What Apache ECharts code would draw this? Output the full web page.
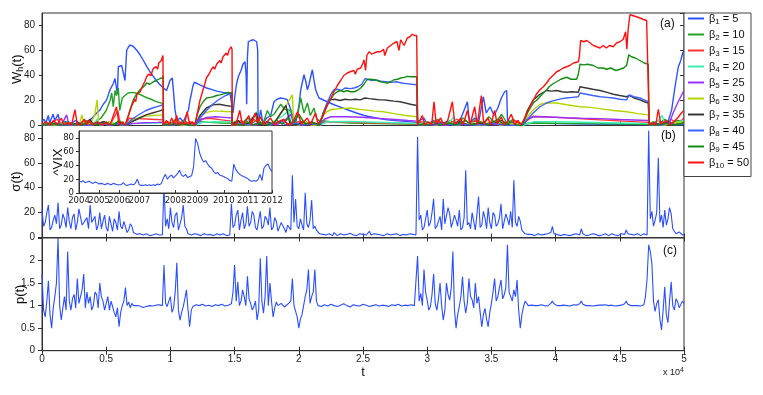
<!DOCTYPE html>
<html>
<head>
<meta charset="utf-8">
<script src="https://cdn.jsdelivr.net/npm/echarts@6/dist/echarts.min.js"></script>
<style>
  html, body { margin: 0; padding: 0; background: #fff; }
  #main { width: 763px; height: 395px; }
</style>
</head>
<body>
<div id="main"></div>
<script>
// horizons and strengths of the W_h(t) strategies
var betas = [5, 10, 15, 20, 25, 30, 35, 40, 45, 50];

// W_h(t), one [t, W] list per beta
var w1 = [[0,3],[150,5],[300,2],[490,8],[600,2],[860,9],[1000,4],[1250,9],[1400,2],[1800,3],[2200,1],[2600,4],[3000,1.5],[3400,3],[3738,4.5],[4000,7],[4257,10],[4517,12.5],[4776,17],[5036,20.5],[5296,28.6],[5555,33.6],[5685,37.6],[5815,36],[5870,25],[5945,47],[6075,47],[6205,48],[6334,47],[6464,36],[6594,60],[6723,62.6],[6853,64.5],[7113,63.2],[7400,60],[7632,56.6],[7900,52],[8152,47.3],[8400,43],[8671,39.3],[8900,36],[9190,32.6],[9450,30],[9700,28],[9969,36],[10150,38],[10300,37],[10360,12.5],[10500,4],[10750,6],[11000,3],[11270,9],[11400,12],[11530,20.5],[11650,26],[11735,31],[11865,34.6],[12000,34],[12300,32.5],[12825,30],[13300,28.5],[13600,27.5],[14100,26.5],[14640,25.6],[14780,25.5],[14880,10],[15000,22],[15150,33],[15290,39],[15500,44],[15650,49],[15810,51],[15900,40],[15940,17],[16000,55],[16070,67],[16250,68],[16460,68.6],[16600,67],[16720,67],[16800,60],[16830,0.5],[17030,12.6],[17200,2],[17500,6],[17810,8],[18070,19],[18300,21],[18590,22],[18850,21.5],[19110,20.6],[19370,12.6],[19600,5],[19760,2],[20000,15],[20150,28.6],[20405,40.6],[20550,35],[20670,28.6],[20800,33],[20925,39],[21055,44.6],[21200,35],[21315,28.6],[21450,25],[21573,22],[22000,20],[22740,16.6],[23300,14.5],[23780,12.6],[24500,10],[25080,8],[26000,6],[26895,4.5],[28000,3.5],[29180,2.5],[29260,2],[29750,6],[30000,1],[30500,4],[31000,1],[31500,3],[32000,0.5],[32600,5],[33130,19],[33300,2],[33700,6],[34000,2],[34370,23],[34600,10],[34900,15],[35200,8],[35500,14],[35773,22],[36032,27],[36190,28],[36250,5],[36500,2],[37000,1],[37400,0.5],[38000,2],[40000,1.5],[44000,1],[47220,0.8],[47500,2],[47900,0.5],[48400,4],[48700,1],[49040,12.5],[49300,31],[49560,47],[49750,52],[49900,58],[50000,60]];
var w2 = [[0,0.5],[600,2],[1200,0.3],[2000,3],[2600,0.5],[3400,4],[3900,1],[4600,6],[5000,12],[5300,20],[5430,26],[5550,15],[5690,28],[5800,24],[5945,30],[6050,12],[6250,22],[6464,24],[6700,26],[7000,26.5],[7300,26],[7600,25],[7900,23.5],[8200,22],[8500,21],[8800,19.5],[9100,18.5],[9440,17.5],[9460,0.3],[9700,3],[10000,1],[10400,5],[10700,1],[11100,4],[11500,1],[11900,2],[12300,3],[13000,2.5],[14000,2],[14780,1.8],[14820,1.5],[15200,4],[15500,1],[16000,6],[16400,2],[16800,5],[17200,1],[17550,12],[17800,7],[18070,9],[18590,17],[18900,13],[19370,12],[19600,2],[19900,8],[20150,22],[20400,10],[20670,18],[20900,8],[21180,14],[21400,5],[21600,4],[22500,3],[24000,2],[26000,1.5],[29180,1],[29800,3],[30300,1],[30800,5],[31300,1],[31800,4],[32300,1],[32800,6],[33300,1],[33800,5],[34300,1],[34800,7],[35300,2],[35800,9],[36200,2],[36700,5],[37200,1],[38500,2],[42000,1.5],[47220,1],[47600,3],[48000,1],[48500,5],[49000,2],[49500,4],[50000,3]];
var w3 = [[0,0.5],[700,2],[1200,5],[1500,0.5],[2200,2],[2800,0.5],[3700,4],[4000,0.5],[4800,3],[5300,0.5],[5900,12],[6100,1],[6464,0.5],[6800,5.8],[7500,5.5],[8500,5],[9440,4.5],[9460,1],[9800,3],[10200,0.5],[10600,4],[11000,0.5],[11500,3],[11900,1],[12300,5],[13000,5.8],[14000,4.5],[14780,3.5],[15000,1],[15500,4],[16000,0.5],[16500,5],[17000,0.5],[17500,3],[18200,0.5],[18800,4],[19300,0.5],[20000,3],[20800,0.5],[21600,2],[22200,3],[24000,2.5],[27000,1.8],[29180,1.4],[29500,3],[30000,0.5],[30800,4],[31500,0.5],[32300,5],[33000,0.5],[33900,4],[34500,0.5],[35300,3],[36000,0.5],[36800,4],[37400,1],[38260,7.5],[40000,6.5],[43460,4.5],[47220,2.5],[47500,1],[48000,4],[48500,0.5],[49000,5],[49500,1],[50000,6]];
var w4 = [[0,0.3],[1000,1],[2000,0.3],[3000,1.5],[4000,0.3],[4300,5],[4500,0.3],[5500,2],[6464,0],[7000,1.5],[8000,2],[9440,2.2],[9460,0.2],[10500,1],[11900,0],[12500,2.5],[13500,3],[14780,2.8],[14820,0.2],[15800,2],[16450,7],[16720,11],[16900,1],[17800,2],[18800,8],[19200,12],[19400,1],[20500,2],[21600,0],[22200,3],[24000,3.2],[26000,2.6],[28000,2],[29180,1.6],[29260,0.2],[30500,2],[31500,0.5],[32090,7],[32300,0.5],[33500,2],[34500,0.3],[35500,3],[36500,0.3],[37400,0],[38300,3],[40000,3],[42000,2.6],[44000,2.2],[46000,1.8],[47220,1.5],[47290,0.2],[47800,2],[48310,8],[48500,0.5],[49200,2],[50000,4]];
var w5 = [[0,0.3],[800,1],[1500,0.3],[1920,8.5],[2100,0.3],[3000,1],[3800,0.3],[4500,2],[5200,0.3],[6000,1.5],[6464,0],[7000,1.5],[8000,2.2],[9000,2.5],[9440,2.7],[9460,0.2],[10500,1],[11200,0.2],[11900,0],[12300,4],[12800,6.5],[13500,7],[14200,6.5],[14780,6],[14820,0.2],[15800,1],[16600,0.2],[17500,2],[18300,0.5],[19000,5],[19400,9],[19600,0.5],[20400,1],[21600,0],[22000,5],[22500,7],[23500,7],[24500,6.8],[25500,6.2],[26500,5.5],[27500,4.8],[28500,4],[29180,3.5],[29260,0.2],[30500,1],[31500,0.2],[32800,1.5],[33800,0.2],[35000,1],[36000,0.2],[37400,0],[37800,5],[38260,7],[39500,6.8],[40860,6.2],[42000,5.8],[43460,5.5],[45000,4.8],[47220,4],[47290,0.2],[47700,1],[48300,0.2],[48900,3],[49150,10],[49500,18],[49800,24],[50000,28]];
var w6 = [[0,0.5],[500,1],[1000,0.3],[1500,2],[2000,0.5],[2500,1],[2900,0.3],[3100,8.5],[3300,0.3],[3800,2],[4100,8],[4290,20.5],[4400,3],[4700,0.5],[5200,3],[5600,1],[6000,4],[6464,0],[7000,4],[7600,6.5],[8100,7.5],[8600,8],[9100,8.3],[9440,8.5],[9460,0.3],[10200,1.5],[11000,0.3],[11900,0],[12300,7],[12800,10.5],[13300,11.5],[13800,11.5],[14300,11.2],[14780,11],[14820,0.3],[15500,1],[16200,0.3],[17000,2],[17800,0.5],[18300,5],[18900,14],[19300,21],[19500,24.6],[19600,1],[20000,0.3],[20600,3],[21000,0.3],[21600,0],[21900,8],[22170,11],[22600,13],[23200,13.5],[24000,14],[24600,13],[25150,12.5],[25900,11.5],[26590,11],[27400,9.5],[28300,8],[29180,7],[29260,0.3],[30000,1],[30700,0.3],[31500,2],[32300,0.3],[33200,1.5],[34100,0.3],[35000,3],[35700,0.3],[36500,2],[37400,0],[37800,7],[38300,13],[38800,17],[39300,18],[40080,18],[40860,16.6],[41900,15],[42700,14.5],[43460,13.5],[44500,12],[45530,11],[46400,9.5],[47220,8.5],[47290,0.3],[47800,1],[48500,0.3],[49200,2],[50000,3]];
var w7 = [[0,0.3],[1100,1.5],[2000,0.3],[2800,2],[3400,0.3],[3740,5],[4000,0.5],[4800,3],[5500,0.5],[6100,2.5],[6464,0],[7000,3],[7600,6],[8100,8.5],[8600,10],[9100,11.5],[9440,12.6],[9460,0.3],[10000,1],[10500,0.3],[11000,2],[11500,0.3],[11900,0],[12300,8],[12800,14],[13300,16.5],[13800,17],[14300,16],[14780,15.3],[14820,0.3],[15300,4],[15600,0.3],[16100,2],[16720,10],[16900,0.3],[17600,3],[18000,0.5],[18600,10],[19000,16],[19300,2],[19800,0.5],[20300,3],[20800,0.3],[21200,2],[21600,0],[21900,10],[22200,17],[22430,20.5],[22800,21],[23200,20],[23600,21],[24000,20.5],[24400,21],[24800,20.5],[25150,22],[25500,21.5],[25900,21],[26300,20.5],[26590,20.5],[27000,20],[27400,19.5],[27880,19],[28300,18],[28700,17],[29180,16],[29260,0.3],[29700,1],[30300,0.3],[31000,2],[31800,0.3],[32500,3],[33200,0.3],[34000,2],[34800,0.3],[35800,4],[36400,0.3],[37400,0],[37800,12],[38260,20.5],[38780,25],[39300,28],[39700,27.5],[40080,28],[40500,27],[40860,26.6],[41300,27],[41770,26.6],[41900,31],[42400,30],[42900,29],[43460,28],[44000,26.5],[44490,25],[45000,24],[45530,23],[45740,24],[46100,22],[46570,20.5],[46900,19],[47220,18],[47290,0.3],[47700,2],[48200,0.5],[48700,3],[49300,0.5],[50000,2]];
var w8 = [[0,0.5],[1000,2],[1800,0.3],[2700,1],[3600,0.3],[4400,2.5],[5200,0.3],[6000,1.5],[6464,0],[7000,5],[7600,9],[8100,12],[8600,14],[9100,15.5],[9440,16.6],[9460,0.3],[9800,1],[10200,0.3],[10800,2],[11300,0.3],[11900,0],[12300,6],[12800,12],[13300,17],[13800,21],[14300,24],[14780,26],[14820,0.3],[15500,1.5],[16200,0.3],[17000,2],[17800,0.3],[18500,3],[19000,0.5],[19700,2],[20300,0.3],[21000,1.5],[21600,0],[21900,10],[22200,18],[22500,25],[22740,28.6],[23000,29],[23300,28],[23600,30],[24000,29.5],[24300,30],[24600,31],[24900,33],[25150,37.4],[25400,37],[25700,36],[26000,36.5],[26400,35.5],[26800,35],[27200,34.5],[27600,35],[28000,34],[28400,33.5],[28800,33],[29180,32.6],[29260,0.3],[29800,1],[30500,0.3],[31300,2],[32000,0.3],[33000,1],[34000,0.3],[35000,2],[36000,0.3],[37400,0],[37800,5],[38260,10],[38780,15],[39300,18],[39700,19.5],[40080,20.5],[40500,21.5],[40860,22],[41300,22.5],[41770,23],[41900,26],[42400,25],[42900,24],[43460,23],[44000,22.5],[44490,22],[45000,21],[45530,20.5],[45740,24.5],[46100,23],[46570,22],[46900,20.5],[47220,19],[47290,0.3],[47700,1],[48200,0.3],[48800,2],[49400,0.5],[50000,1]];
var w9 = [[0,0.3],[800,2],[1300,0.3],[2200,1.5],[3000,0.3],[3700,3],[4200,0.5],[5000,2],[5600,0.5],[6000,4],[6464,0],[6700,7],[6850,12.5],[7000,17],[7110,20.5],[7300,24],[7400,23],[7633,28.6],[7800,30],[8000,32],[8152,34],[8400,33],[8671,35],[8900,36],[9190,37.6],[9350,38],[9440,39.8],[9460,0.3],[9700,1],[10000,0.3],[10300,2],[10600,0.3],[11000,1.5],[11400,0.3],[11900,0],[12100,9],[12305,15],[12550,19],[12825,22],[13100,22.5],[13344,23],[13600,24],[13863,24.5],[14200,25.5],[14500,26.5],[14780,26],[14820,0.3],[15200,1],[15600,0.3],[16000,3],[16400,0.3],[17000,2],[17600,0.3],[18300,4],[18700,1],[19200,6],[19500,1],[20000,9],[20500,1],[21000,3],[21600,0],[21900,9],[22220,16],[22500,21],[22740,25],[23000,27],[23260,28],[23500,27],[23780,28],[24000,27],[24300,27],[24550,28],[24820,30],[25080,33],[25300,36.6],[25600,37],[25860,36.6],[26100,36],[26375,35],[26600,34.5],[26895,34],[27150,35],[27414,36.6],[27700,37],[27933,38],[28200,38.5],[28452,39.3],[28700,39],[29000,39],[29180,39],[29260,0.3],[29600,1],[30000,0.3],[30500,3],[31000,0.3],[31700,2],[32200,0.3],[33000,4],[33500,0.3],[34200,3],[34700,0.3],[35500,5],[36000,0.3],[36600,3],[37000,0.3],[37400,0],[37800,10],[38260,18],[38500,20],[38780,23],[39050,26],[39300,28.6],[39500,31],[39690,32.6],[39900,34],[40080,35],[40400,37],[40860,38.6],[41200,37],[41640,37],[41770,41],[41900,49],[42200,48.5],[42500,49],[42940,48],[43300,46],[43700,46],[43980,45],[44300,46],[44700,44],[45010,45],[45300,46],[45530,48],[45700,56.6],[45900,55],[46200,54],[46570,52],[46900,50],[47220,49],[47290,0.3],[47600,1],[48000,0.3],[48500,2],[49000,0.5],[49500,1],[50000,2]];
var w10 = [[0,1],[300,3],[600,0.5],[900,4],[1200,1],[1500,6],[1700,0.5],[2000,2],[2300,0.5],[2570,12.6],[2750,0.5],[3000,1],[3300,5],[3500,0.5],[3690,4],[3900,0.5],[4300,3],[4600,0.5],[5000,2],[5300,0.5],[5800,15],[6000,0.5],[6300,3],[6464,0],[6800,10],[7000,16],[7100,18],[7200,21],[7300,19],[7400,25],[7500,26],[7650,27],[7700,28],[7800,31],[7900,33],[8000,35],[8100,34],[8150,39],[8300,41],[8400,42],[8500,40],[8600,44],[8700,46],[8800,46],[8900,47],[9000,45],[9100,50],[9200,51],[9300,52],[9350,54],[9420,56],[9450,0.5],[9700,4],[9900,0.5],[10100,6],[10300,1],[10500,8],[10600,0.5],[10900,3],[11100,0.5],[11300,11],[11500,1],[11700,3],[11900,0],[12100,10],[12300,20],[12500,27],[12700,34],[12800,38],[13000,41],[13100,40],[13200,45],[13350,47],[13450,45],[13600,49],[13850,52],[13950,50],[14100,55],[14350,58],[14450,56],[14550,60],[14720,63],[14800,61],[14820,0.5],[14900,2],[15100,0.5],[15400,12],[15600,1],[15900,4],[16100,8],[16300,0.5],[16600,10],[16800,2],[17000,7],[17300,0.5],[17800,6],[18100,0.5],[18400,3],[18850,5],[19100,0.5],[19500,2],[19900,11],[20200,1],[20670,6],[20900,0.5],[21300,10],[21500,1],[21600,0],[21900,8],[22220,16.6],[22500,22],[22740,27],[23000,32],[23260,36],[23500,40],[23780,42],[24000,43],[24300,44],[24400,41],[24550,45],[24820,46],[25000,50],[25080,52.6],[25200,44],[25300,56],[25470,59],[25700,57],[25860,58],[26100,59],[26375,59],[26600,61],[26700,56],[26900,62],[27150,64],[27414,66],[27650,67],[27800,60],[27933,68.6],[28200,64],[28450,70],[28650,71],[28840,73],[29000,72],[29180,72],[29260,0.5],[29400,1],[29620,8],[29800,0.5],[30100,3],[30350,0.5],[30530,19],[30700,1],[31050,6],[31300,0.5],[31600,4],[31960,19],[32150,1],[32400,3],[32610,6],[32800,0.5],[33130,12],[33350,1],[33700,15],[33900,0.5],[34216,24],[34400,1],[34735,6],[34950,0.5],[35254,12],[35450,1],[35773,7],[36000,0.5],[36300,4],[36552,9],[36800,1],[37071,4],[37300,0.5],[37400,0],[37700,8],[38000,15],[38260,20],[38500,25],[38780,28.6],[39050,31],[39300,34],[39500,37],[39690,39],[39900,41],[40080,43],[40300,44],[40600,46],[40860,47],[41100,48],[41400,50],[41770,51],[41850,55],[41950,68],[42200,67],[42420,68],[42700,66],[42950,64],[43200,63],[43460,62],[43700,64],[43950,62],[44200,64],[44490,63],[44750,66],[45000,67],[45270,69],[45450,75],[45550,61],[45650,77],[45790,88.6],[46000,88],[46300,87],[46570,86],[46800,85],[47090,84],[47220,83],[47290,0.5],[47500,2],[47800,0.5],[48000,13],[48200,1],[48600,4],[48900,0.5],[49200,3],[49500,6],[49800,10],[50000,12]];

// sigma(t) and p(t), one value every dt steps from t = 0
var dt = 125;
var sigma = [22,9,12,20,26,6,8,14,18,11,28,7,10,19,15,8,24,13,7,16,19,6,12,23,22,10,9,14,16,7,26,12,11,17,6,10,20,7,13,18,8,5,17,11,5,15,12,6,21,9,7,13,14,4,6,11,9,4,
  3,2.5,2,3,3.5,2,1.5,3,2.5,1.5,3,2,1.5,3,2.5,2,3,2,
  42,9,15,7,24,12,8,18,20,6,11,16,26,9,7,3,
  4,2,2.5,3,1.5,2.5,3,1.5,2,3,2.5,2,1.5,2.5,3,1.5,2,3,2.5,2,1.5,3,2.5,1.5,2,2,
  27,8,10,18,22,6,14,20,7,11,25,9,12,21,18,8,6,14,21,7,9,17,15,10,24,6,8,16,13,5,6,12,11,7,4,10,9,6,50,12,31,9,7,15,10,6,36,11,8,14,30,7,9,6,5,3,4,2.5,
  3,2,2,3,2.5,1.5,4,2.5,1.5,3,3,2,2,3.5,2.5,1.5,3.5,2.5,2,3,1.5,2,3,2.5,2.5,1.5,2,3,5,2,2,3,1.5,2.5,3,2,2.5,1.5,2,3,3,2,1.5,2.5,2.5,3,4,1.5,2,2.5,3,2,2.5,3,1.5,2.5,3,2,
  81,14,18,6,8,15,22,9,12,20,31,7,9,13,17,6,31,11,10,24,19,8,7,18,14,9,22,6,8,16,54,10,12,7,20,13,6,19,33,8,10,21,16,7,24,12,7,20,18,9,11,16,27,7,8,19,15,10,21,8,46,12,9,17,13,6,5,3,4,2.5,
  3,2.5,2,1.5,2.5,3,1.5,2,3,2.5,2,3,2.5,4,9,3,2,2.5,3,1.5,1.5,2.5,2.5,2,2,1.5,3,2.5,2.5,3,1.5,2,7,3,2,1.5,3,2,2.5,3,1.5,2.5,2,1.5,3,2,2.5,3,2,1.5,1.5,3,3,2,2.5,1.5,2,3,3,2.5,6,3,2,2.5,1.5,2,2.5,3,3,1.5,2,3,2.5,2,
  86,15,21,9,14,20,64,12,18,8,22,10,15,24,19,7,5,3,3,4.5,4,2,2.5];
var price = [1.7,0.9,0.75,1.1,1.55,0.8,0.5,0.95,1.2,1.5,2.5,1.0,0.68,0.95,1.2,0.9,2.2,1.1,0.9,1.15,1.25,0.95,1.6,1.05,1.2,1.35,1.7,0.95,1.3,1.05,1.2,0.9,1.0,1.3,1.25,0.95,1.5,1.2,1.1,0.9,1.05,1.2,0.9,1.1,0.98,0.85,0.75,0.95,0.53,0.85,1.0,1.1,1.4,1.0,1.08,0.95,1.05,1.0,
  0.97,1.0,1.02,0.99,0.98,0.96,0.95,0.98,0.97,1.0,1.0,0.99,0.98,1.01,1.0,1.02,1.04,1.0,
  1.9,1.05,0.98,1.1,1.2,0.85,0.95,1.3,1.95,0.9,0.68,0.85,0.98,1.15,1.35,0.9,
  0.53,0.9,0.98,1.0,1.02,0.99,1.0,1.02,1.03,1.0,0.99,0.98,1.01,1.0,0.98,1.01,1.02,1.0,1.0,0.99,1.03,1.01,0.99,1.0,1.01,1.03,
  1.04,1.3,1.9,1.1,1.53,1.0,1.1,1.35,1.2,1.0,1.65,1.15,1.05,0.9,0.98,1.1,0.68,0.9,2.05,1.1,0.83,1.2,2.1,1.0,1.5,1.1,0.75,0.95,1.08,1.0,0.98,1.05,1.02,0.97,0.94,1.03,1.02,1.1,1.6,1.0,0.98,0.75,0.5,0.7,0.8,1.0,1.2,1.35,1.8,1.05,1.2,1.3,1.8,1.1,1.0,1.02,0.98,1.0,
  1.02,1.0,0.99,1.01,1.03,1.02,1.0,0.99,0.98,1.0,1.01,1.03,1.04,1.02,1.0,0.98,0.97,0.99,1.02,1.01,1.0,1.0,0.99,1.01,1.03,1.02,1.01,0.99,0.98,1.0,1.0,1.02,1.02,1.0,0.99,1.0,1.01,1.03,1.0,0.99,0.98,1.0,1.02,1.01,1.0,0.98,1.03,1.01,0.99,1.0,1.01,1.03,1.0,0.99,1.02,1.01,1.0,1.03,
  2.1,1.1,1.27,1.0,1.8,1.3,1.12,0.9,0.98,1.25,1.7,1.05,0.9,1.15,1.5,1.0,0.68,0.9,1.5,1.25,1.12,1.4,2.2,0.9,0.5,0.8,0.98,1.2,1.64,1.1,0.83,1.05,1.6,1.2,1.13,0.95,1.5,1.05,1.2,0.85,0.53,0.8,0.94,0.7,0.53,0.85,1.05,1.3,1.6,1.1,1.2,1.4,1.57,1.15,1.24,1.4,2.35,1.3,1.2,1.1,1.35,1.2,1.57,0.9,0.5,0.8,0.98,1.1,1.09,1.0,
  1.0,1.01,1.02,1.0,0.99,1.0,1.01,1.02,1.03,1.0,0.98,0.99,1.0,1.05,1.1,1.04,1.02,1.0,0.99,1.0,1.0,1.01,1.02,1.0,0.98,0.99,1.01,1.02,1.03,1.01,1.0,1.04,1.1,1.03,1.02,1.0,0.99,1.0,1.0,0.99,0.98,1.0,1.02,1.01,1.0,1.01,1.01,1.02,0.99,1.0,1.03,1.01,1.0,0.99,0.98,1.0,1.02,1.01,1.0,1.04,1.1,1.03,1.02,1.0,0.99,1.0,1.01,1.0,1.0,0.99,0.98,1.02,1.2,1.6,
  2.35,2.2,1.93,1.1,0.87,1.05,1.13,0.7,0.46,0.9,1.42,0.8,0.62,1.1,1.53,1.0,0.9,1.15,1.09,0.95,0.98,1.1,1.05];

// inset: ^VIX 2004-2012 and where each year label sits
var vix = [17,16,18,15,16,17,15,14,16,15, 13,14,13,12,14,13,12,14,13,12, 12,12,15,12,11,12,13,12,14,20,
  12,11,11,12,11,12,11,12,11,13,12,14,22,27,20,24,26,22,
  25,28,33,26,24,27,22,24,25,38,79,
  72,58,50,45,47,42,38,36,31,28,30,26,25,
  24,22,21,18,17,42,34,30,27,25,24,22,
  21,18,17,18,17,19,27,18,36,40,42,35,31];
var vixYears = {0: '2004', 10: '2005', 20: '2006', 30: '2007', 48: '2008', 59: '2009', 72: '2010', 84: '2011', 96: '2012'};

var W = [w1, w2, w3, w4, w5, w6, w7, w8, w9, w10];
var colors = ['#2d52ff', '#22a022', '#ff3535', '#3deeb0', '#9b30ff', '#b5d500', '#383838', '#3b62ff', '#148c14', '#ff1010'];
var blue = '#2b4fff';
var FONT = 'Liberation Sans';
var NARROW = '"Liberation Sans Narrow", "DejaVu Sans Condensed", sans-serif';

var sigmaData = sigma.map(function (v, i) { return [i * dt, v]; });
var priceData = price.map(function (v, i) { return [i * dt, v]; });
var vixCats = vix.map(function (v, i) { return vixYears[i] || ('_' + i); });
var isYear = function (i, v) { return String(v).charAt(0) !== '_'; };

var chart = echarts.init(document.getElementById('main'));

var axLine = { show: true, lineStyle: { color: '#333', width: 1 } };
var lbl = { color: '#222', fontSize: 10, fontFamily: FONT };
var insetLbl = { color: '#222', fontSize: 9.5, fontFamily: NARROW };

function tAxis(grid, pos, labels) {
    return {
        type: 'value', gridIndex: grid, position: pos, min: 0, max: 50000, interval: 5000,
        axisLine: axLine, splitLine: { show: false },
        axisTick: { show: true, inside: true, length: 4, lineStyle: { color: '#333' } },
        axisLabel: labels ? Object.assign({ margin: 4, formatter: function (v) { return v / 10000; } }, lbl) : { show: false }
    };
}
function vAxis(grid, pos, max, step, name, gap) {
    var left = pos === 'left';
    return {
        type: 'value', gridIndex: grid, position: pos, min: 0, max: max, interval: step,
        axisLine: axLine, splitLine: { show: false },
        axisTick: { show: true, inside: !left, length: left ? 3 : 4, lineStyle: { color: '#333' } },
        axisLabel: left ? Object.assign({ margin: 7, showMaxLabel: false }, lbl) : { show: false },
        name: left ? name : '', nameLocation: 'middle', nameGap: gap, nameRotate: 90, nameMoveOverlap: false,
        nameTextStyle: {
            fontSize: 13, fontFamily: FONT, color: '#111',
            rich: {
                n: { fontSize: 13, fontFamily: FONT, color: '#111', lineHeight: 16 },
                s: { fontSize: 9, fontFamily: FONT, color: '#111', lineHeight: 8, verticalAlign: 'bottom' }
            }
        }
    };
}

var series = W.map(function (d, k) {
    return {
        name: 'β' + (k + 1) + ' = ' + betas[k], type: 'line', xAxisIndex: 0, yAxisIndex: 0,
        data: d, showSymbol: false, symbol: 'none', silent: true,
        lineStyle: { width: 1.4, color: colors[k] }, itemStyle: { color: colors[k] }
    };
});
series.push({ type: 'line', xAxisIndex: 1, yAxisIndex: 2, data: sigmaData, showSymbol: false, symbol: 'none',
    lineStyle: { width: 1.1, color: blue }, silent: true });
series.push({ type: 'line', xAxisIndex: 3, yAxisIndex: 4, data: priceData, showSymbol: false, symbol: 'none',
    lineStyle: { width: 1.1, color: blue }, silent: true });
series.push({ type: 'line', xAxisIndex: 5, yAxisIndex: 6, data: vix, showSymbol: false, symbol: 'none',
    lineStyle: { width: 1.1, color: blue }, silent: true, z: 12 });

var insetY = vAxis(3, 'left', 90, 20, '{n|^VIX}', 13);
insetY.z = 11;
insetY.axisLabel = Object.assign({ margin: 5, showMaxLabel: false }, insetLbl);

chart.setOption({
    animation: false,
    backgroundColor: '#fff',
    grid: [
        { left: 42, top: 13, width: 642, height: 112.5, show: true, borderColor: '#333', borderWidth: 1, outerBoundsMode: 'none' },
        { left: 42, top: 125.5, width: 642, height: 112, show: true, borderColor: '#333', borderWidth: 1, outerBoundsMode: 'none' },
        { left: 42, top: 238, width: 642, height: 112.7, show: true, borderColor: '#333', borderWidth: 1, outerBoundsMode: 'none' },
        { left: 79, top: 131, width: 193, height: 62, show: true, backgroundColor: '#fff', borderColor: '#333', borderWidth: 1, z: 10, outerBoundsMode: 'none' }
    ],
    xAxis: [
        tAxis(0, 'bottom', false),
        tAxis(1, 'bottom', false),
        tAxis(1, 'top', false),
        Object.assign(tAxis(2, 'bottom', true), { name: 't', nameLocation: 'middle', nameGap: 13,
            nameTextStyle: { fontSize: 13, fontFamily: FONT, color: '#111', verticalAlign: 'top' } }),
        tAxis(2, 'top', false),
        {
            type: 'category', gridIndex: 3, data: vixCats, boundaryGap: false, z: 11,
            axisLine: axLine, splitLine: { show: false },
            axisTick: { show: true, inside: true, length: 3, interval: isYear, lineStyle: { color: '#333' } },
            // interval 0 keeps every year label; the other categories print as empty text
            axisLabel: Object.assign({ interval: 0, margin: 3, hideOverlap: false,
                formatter: function (v) { return v.charAt(0) === '_' ? '' : v; } }, insetLbl)
        }
    ],
    yAxis: [
        vAxis(0, 'left', 90, 20, '{n|W}{s|h}{n|(t)}', 17),
        vAxis(0, 'right', 90, 20, '', 0),
        vAxis(1, 'left', 90, 20, '{n|σ(t)}', 18),
        vAxis(1, 'right', 90, 20, '', 0),
        vAxis(2, 'left', 2.5, 0.5, '{n|p(t)}', 14),
        vAxis(2, 'right', 2.5, 0.5, '', 0),
        insetY
    ],
    legend: {
        data: series.slice(0, 10).map(function (s) { return s.name; }),
        orient: 'vertical', left: 684, top: 13, padding: [0, 2, 7, 4], itemGap: 3.5,
        icon: 'rect', itemWidth: 16, itemHeight: 2,
        backgroundColor: '#fff', borderColor: '#444', borderWidth: 1, borderRadius: 0,
        selectedMode: false,
        formatter: function (name) {
            var m = name.match(/β(\d+) = (\d+)/);
            return '{t|β}{s|' + m[1] + '}{t| = ' + m[2] + '}';
        },
        textStyle: {
            fontFamily: FONT, fontSize: 11, color: '#111',
            rich: {
                t: { fontFamily: FONT, fontSize: 11, color: '#111', lineHeight: 14 },
                s: { fontFamily: FONT, fontSize: 8, color: '#111', lineHeight: 7, verticalAlign: 'bottom' }
            }
        }
    },
    graphic: [
        { type: 'text', left: 660, top: 18, z: 20, style: { text: '(a)', font: '12px "Liberation Sans"', fill: '#111' } },
        { type: 'text', left: 661, top: 130, z: 20, style: { text: '(b)', font: '12px "Liberation Sans"', fill: '#111' } },
        { type: 'text', left: 663, top: 245, z: 20, style: { text: '(c)', font: '12px "Liberation Sans"', fill: '#111' } },
        { type: 'text', left: 663, top: 367, z: 20, style: {
            text: '{n|x 10}{e|4}',
            rich: {
                n: { fontSize: 9, fontFamily: FONT, fill: '#222', lineHeight: 12 },
                e: { fontSize: 7, fontFamily: FONT, fill: '#222', lineHeight: 7, verticalAlign: 'top' }
            }
        } }
    ],
    series: series
});
</script>
</body>
</html>
